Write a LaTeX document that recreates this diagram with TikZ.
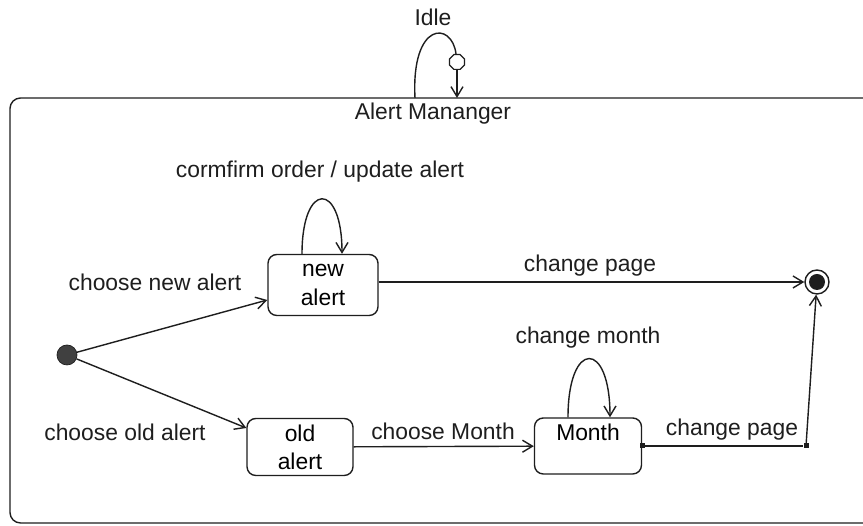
\documentclass[tikz,border=0pt]{standalone}
\usepackage{fontspec}
\setmainfont{Liberation Sans}
\usetikzlibrary{arrows.meta,positioning,shapes.geometric}
\definecolor{stink}{HTML}{1E1E1E}
\definecolor{stdot}{HTML}{404040}
\tikzset{
  st/.style={draw=stink, rounded corners=5pt, align=center, line width=0.8pt, inner sep=2pt},
  init/.style={circle, fill=stdot, draw=stink, minimum size=0.4cm, inner sep=0pt},
  fin/.style={circle, draw=stink, line width=0.8pt, minimum size=0.48cm, inner sep=0pt},
  junc/.style={rectangle, fill=stink, minimum size=0.1cm, inner sep=0pt},
  hist/.style={regular polygon, regular polygon sides=8, draw=stink, line width=0.7pt, minimum size=0.32cm, inner sep=0pt},
  tr/.style={-{Straight Barb[length=2mm,width=2.4mm]}, line width=0.8pt, color=stink},
  ln/.style={line width=0.8pt, color=stink},
  lbl/.style={text=stink},
}

\begin{document}
\begin{tikzpicture}[x=0.02cm, y=0.02cm, font=\fontsize{13}{16}\selectfont]
    \clip (0,0) rectangle (863,526);
    \fill[white] (0,0) rectangle (863,526);
    % outer state
    \draw[ln, rounded corners=6pt] (10,3) rectangle (880,428);
    \node[lbl] (ttl) at (433,412) {Alert Mananger};
    \node[lbl] (idle) at (433,509) {Idle};
    \coordinate (idlein) at (415,428);
    \coordinate (idleout) at (457,428);
    \node[hist] (hmark) at (457,464) {};
    \draw[ln] (idlein) .. controls (411,505) and (452,505) .. (hmark);
    \draw[tr] (hmark) -- (idleout);
    % states
    \node[init] (start) at (67,171) {};
    \node[st, minimum width=2.2cm, minimum height=1.22cm] (newalert) at (323,241) {new\\alert};
    \node[st, minimum width=2.12cm, minimum height=1.14cm] (oldalert) at (300,79) {old\\alert};
    \node[st, minimum width=2.14cm, minimum height=1.12cm] (month) at (588,80) {Month\\\mbox{}};
    \node[fin] (final) at (817,244) {};
    \node[circle, fill=stink, minimum size=0.32cm, inner sep=0pt] at (final) {};
    \node[junc] (j1) at (month.east) {};
    \node[junc] (j2) at (806,80) {};
    % transitions
    \draw[tr] (start) -- ([yshift=-0.3cm]newalert.west);
    \node[lbl] at (155,244) {choose new alert};
    \draw[tr] (start) -- ([yshift=0.38cm]oldalert.west);
    \node[lbl] at (125,94) {choose old alert};
    \draw[tr] ([xshift=-0.42cm]newalert.north) .. controls +(0,73) and +(0,73) .. ([xshift=0.38cm]newalert.north);
    \node[lbl] at (320,354) {cormfirm order / update alert};
    \draw[tr] (newalert.east |- final) -- (final);
    \node[lbl] at (590,260) {change page};
    \draw[tr] (oldalert) -- (month);
    \node[lbl] at (443,95) {choose Month};
    \draw[tr] ([xshift=-0.4cm]month.north) .. controls +(0,78) and +(0,78) .. ([xshift=0.44cm]month.north);
    \node[lbl] at (588,188) {change month};
    \draw[ln] (j1) -- (j2);
    \draw[tr] (j2) -- (final);
    \node[lbl] at (732,96) {change page};
\end{tikzpicture}
\end{document}
